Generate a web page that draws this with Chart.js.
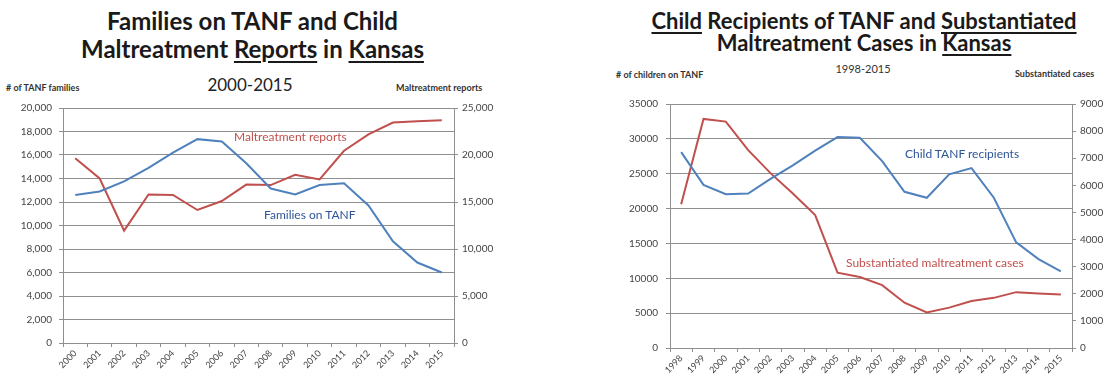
<!DOCTYPE html>
<html>
<head>
  <title>TANF and Child Maltreatment in Kansas</title>
  <script src="https://cdn.jsdelivr.net/npm/chart.js"></script>
  <style>
    body { margin: 0; background: #fff; font-family: Lato, "Liberation Sans", sans-serif; }
    #page { position: relative; width: 1113px; height: 385px; overflow: hidden; }
    .abs { position: absolute; white-space: nowrap; }
    .title { font-weight: bold; color: #1a1a1a; text-align: center; }
    .title u { text-decoration-thickness: 2px; text-underline-offset: 3px; }
    .axt { font-size: 9px; font-weight: bold; color: #333; }
    .note { font-size: 12px; }
    canvas { position: absolute; }
  </style>
</head>
<body>
<div id="page">
  <div class="abs title" style="left:0;width:505px;top:7px;font-size:24px;line-height:28px;">Families on TANF and Child<br>Maltreatment <u>Reports</u> in <u>Kansas</u></div>
  <div class="abs" style="left:0;width:500px;top:74px;font-size:17px;text-align:center;color:#222;">2000-2015</div>
  <div class="abs axt" style="left:6px;top:82px;"># of TANF families</div>
  <div class="abs axt" style="left:396px;top:82px;">Maltreatment reports</div>

  <div class="abs title" style="left:590px;width:548px;top:10px;font-size:22px;line-height:22px;"><u>Child</u> Recipients of TANF and <u>Substantiated</u><br>Maltreatment Cases in <u>Kansas</u></div>
  <div class="abs" style="left:590px;width:546px;top:62px;font-size:11px;text-align:center;color:#333;">1998-2015</div>
  <div class="abs axt" style="left:616px;top:69px;"># of children on TANF</div>
  <div class="abs axt" style="left:1015px;top:68px;">Substantiated cases</div>

  <canvas id="leftChart" width="540" height="290" style="left:0;top:95px;"></canvas>
  <canvas id="rightChart" width="523" height="295" style="left:590px;top:90px;"></canvas>

  <div class="abs note" style="left:234px;top:129px;color:#c0504d;">Maltreatment reports</div>
  <div class="abs note" style="left:264px;top:207px;color:#2f5597;">Families on TANF</div>
  <div class="abs note" style="left:905px;top:146px;color:#2f5597;">Child TANF recipients</div>
  <div class="abs note" style="left:846px;top:255px;color:#c0504d;">Substantiated maltreatment cases</div>
</div>

<script>
// chart 1: 2000-2015
const years1 = ['2000','2001','2002','2003','2004','2005','2006','2007','2008','2009','2010','2011','2012','2013','2014','2015'];
const tanfFamilies = [12600, 12900, 13750, 14900, 16200, 17350, 17150, 15300, 13150, 12650, 13450, 13600, 11700, 8650, 6850, 6000];
const maltreatmentReports = [19650, 17500, 11950, 15800, 15750, 14150, 15100, 16850, 16800, 17900, 17400, 20450, 22200, 23450, 23600, 23700];

// chart 2: 1998-2015
const years2 = ['1998','1999','2000','2001','2002','2003','2004','2005','2006','2007','2008','2009','2010','2011','2012','2013','2014','2015'];
const childTanf = [28100, 23400, 22050, 22150, 24250, 26200, 28300, 30250, 30150, 26800, 22400, 21550, 24900, 25800, 21550, 15150, 12750, 11000];
const substantiated = [5300, 8450, 8350, 7300, 6450, 5700, 4900, 2780, 2620, 2320, 1670, 1310, 1490, 1730, 1850, 2060, 2010, 1970];

const BLUE = '#4f81bd';
const RED = '#c0504d';
const GRID = '#8f8f8f';
const tickFont = { family: 'Lato, "Liberation Sans", sans-serif', size: 10 };

function fixWidth(w) { return function(scale) { scale.width = w; }; }
function fixHeight(h) { return function(scale) { scale.height = h; }; }

function xAxis(h) {
  return {
    offset: true,
    afterFit: fixHeight(h),
    grid: { offset: true, drawOnChartArea: false, color: GRID, tickLength: 4 },
    border: { color: GRID },
    ticks: { minRotation: 45, maxRotation: 45, color: '#444', font: { family: tickFont.family, size: 9 }, padding: 1 }
  };
}

function yAxis(pos, max, step, w, grid, fmt, pad) {
  return {
    position: pos,
    min: 0, max: max,
    afterFit: fixWidth(w),
    grid: { drawOnChartArea: grid, color: GRID, tickLength: 4 },
    border: { color: GRID },
    ticks: { stepSize: step, color: '#444', font: tickFont, padding: pad, callback: fmt }
  };
}

const commas = v => v.toLocaleString('en-US');
const plain = v => String(v);

new Chart(document.getElementById('leftChart'), {
  type: 'line',
  data: {
    labels: years1,
    datasets: [
      { label: 'Families on TANF', data: tanfFamilies, borderColor: BLUE, borderWidth: 2, pointRadius: 0, tension: 0, yAxisID: 'y' },
      { label: 'Maltreatment reports', data: maltreatmentReports, borderColor: RED, borderWidth: 2, pointRadius: 0, tension: 0, yAxisID: 'y1' }
    ]
  },
  options: {
    responsive: false,
    animation: false,
    layout: { padding: { top: 10, right: 26, left: 0, bottom: 0 } },
    plugins: { legend: { display: false }, tooltip: { enabled: false } },
    scales: {
      x: xAxis(42),
      y: yAxis('left', 20000, 2000, 63, true, commas, 7),
      y1: yAxis('right', 25000, 5000, 60, false, commas, 4)
    }
  }
});

new Chart(document.getElementById('rightChart'), {
  type: 'line',
  data: {
    labels: years2,
    datasets: [
      { label: 'Child TANF recipients', data: childTanf, borderColor: BLUE, borderWidth: 2, pointRadius: 0, tension: 0, yAxisID: 'y' },
      { label: 'Substantiated maltreatment cases', data: substantiated, borderColor: RED, borderWidth: 2, pointRadius: 0, tension: 0, yAxisID: 'y1' }
    ]
  },
  options: {
    responsive: false,
    animation: false,
    layout: { padding: { top: 7, right: 0, left: 0, bottom: 0 } },
    plugins: { legend: { display: false }, tooltip: { enabled: false } },
    scales: {
      x: xAxis(37),
      y: yAxis('left', 35000, 5000, 80, true, plain, 8),
      y1: yAxis('right', 9000, 1000, 41, false, plain, 4)
    }
  }
});
</script>
</body>
</html>
